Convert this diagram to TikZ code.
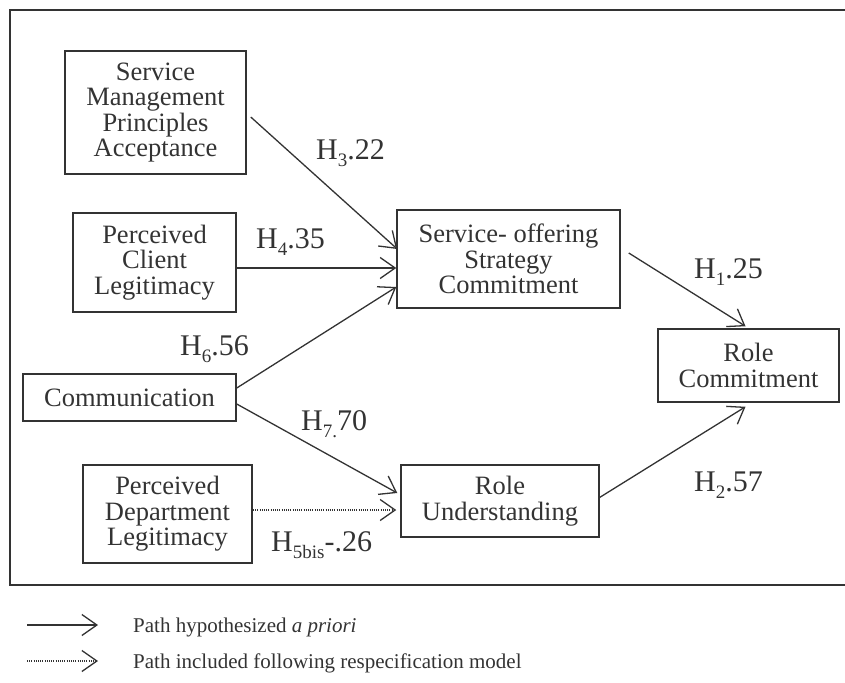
\documentclass[tikz,border=0pt]{standalone}
\usepackage{fontspec}
\setmainfont{Liberation Serif}
\usetikzlibrary{arrows.meta}
\definecolor{ink}{HTML}{333333}
\newcommand{\sbx}[1]{\raisebox{-7.5pt}{\fontsize{19}{19}\selectfont #1}}
\begin{document}
\begin{tikzpicture}[x=1pt,y=-1pt,
  box/.style={draw=ink, line width=1.5pt, rectangle, inner sep=0pt, align=center, text=ink, font=\fontsize{26.5}{25.5}\selectfont},
  conn/.style={draw=ink, line width=1.3pt, -{Straight Barb[length=15pt,width=21pt,line width=1.3pt]}},
  dotconn/.style={conn, dash pattern=on 1pt off 1.2pt},
  lbl/.style={anchor=base west, inner sep=0pt, text=ink, font=\fontsize{30}{30}\selectfont},
  leg/.style={anchor=base west, inner sep=0pt, text=ink, font=\fontsize{21}{24}\selectfont}]
\useasboundingbox (0,0) rectangle (845,682);
\draw[ink, line width=2pt] (845,10) -- (10,10) -- (10,585) -- (845,585);

\node[box, minimum width=181pt, minimum height=123pt] (smpa) at (155.5,112.5) {Service\\Management\\Principles\\Acceptance};
\node[box, minimum width=163pt, minimum height=99pt] (pcl) at (154.5,262.5) {Perceived\\Client\\Legitimacy};
\node[box, minimum width=213pt, minimum height=47pt] (comm) at (129.5,397.5) {Communication};
\node[box, minimum width=169pt, minimum height=98pt] (pdl) at (167.5,514) {Perceived\\Department\\Legitimacy};
\node[box, minimum width=223pt, minimum height=98pt] (so) at (508.5,259) {Service- offering\\Strategy\\Commitment};
\node[box, minimum width=198pt, minimum height=72pt] (ru) at (500,501) {Role\\Understanding};
\node[box, minimum width=181pt, minimum height=73pt] (rc) at (748.5,365.5) {Role\\Commitment};

\draw[conn] ([shift={(4,4.5)}]smpa.east) -- ([shift={(1,-10)}]so.west);
\draw[conn] ([shift={(0,5.5)}]pcl.east) -- ([shift={(0,9)}]so.west);
\draw[conn] ([shift={(0,-9.5)}]comm.east) -- ([shift={(0,28)}]so.west);
\draw[conn] ([shift={(0,6.5)}]comm.east) -- ([shift={(-3,-8)}]ru.west);
\draw[dotconn] ([shift={(-2,-4)}]pdl.east) -- ([shift={(-4,9)}]ru.west);
\draw[conn] ([shift={(-1,-3)}]ru.east) -- ([shift={(-3,4)}]rc.south);
\draw[conn] ([shift={(8,-6)}]so.east) -- ([shift={(-3,-2)}]rc.north);

\node[lbl] (l3) at (316,159) {H\sbx{3}.22};
\node[lbl] (l4) at (256,248) {H\sbx{4}.35};
\node[lbl] (l6) at (180,355) {H\sbx{6}.56};
\node[lbl] (l7) at (301,430) {H\sbx{7.}70};
\node[lbl] (l5) at (271,551) {H\sbx{5bis}-.26};
\node[lbl] (l1) at (694,278) {H\sbx{1}.25};
\node[lbl] (l2) at (694,491) {H\sbx{2}.57};

\coordinate (a1) at (27,625);
\coordinate (b1) at (98,625);
\coordinate (a2) at (27,661);
\coordinate (b2) at (98,661);
\draw[conn] (a1) -- (b1);
\draw[dotconn] (a2) -- (b2);
\node[leg] (t1) at (133,632) {Path hypothesized \textit{a priori}};
\node[leg] (t2) at (133,668) {Path included following respecification model};
\end{tikzpicture}
\end{document}
